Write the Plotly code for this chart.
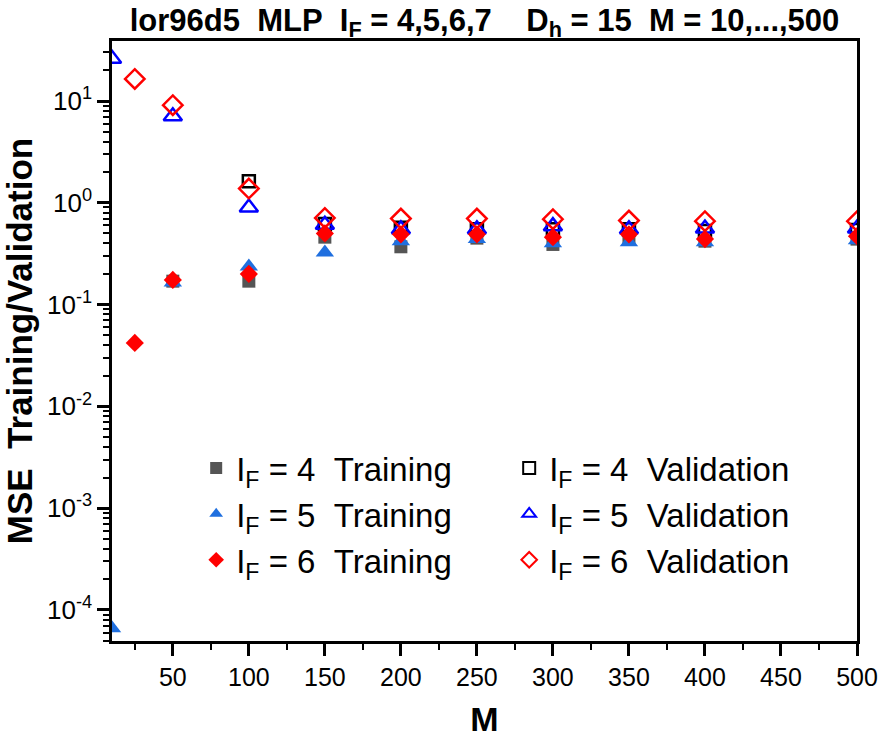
import plotly.graph_objects as go

# ---------------- data ----------------
M_if4_tr = [50, 100, 150, 200, 250, 300, 350, 400, 500]
mse_if4_tr = [0.17, 0.17, 0.46, 0.37, 0.45, 0.39, 0.45, 0.42, 0.44]
M_if4_va = [100, 150, 200, 250, 300, 350, 400, 500]
mse_if4_va = [1.63, 0.62, 0.57, 0.55, 0.55, 0.55, 0.53, 0.54]

M_if5_tr = [10, 50, 100, 150, 200, 250, 300, 350, 400, 500]
mse_if5_tr = [6.6e-5, 0.165, 0.237, 0.325, 0.42, 0.44, 0.40, 0.41, 0.41, 0.43]
M_if5_va = [10, 50, 100, 150, 200, 250, 300, 350, 400, 500]
mse_if5_va = [26.0, 7.1, 0.90, 0.61, 0.55, 0.55, 0.59, 0.55, 0.56, 0.56]

M_if6_tr = [25, 50, 100, 150, 200, 250, 300, 350, 400, 500]
mse_if6_tr = [0.042, 0.175, 0.20, 0.50, 0.49, 0.49, 0.46, 0.49, 0.44, 0.47]
M_if6_va = [25, 50, 100, 150, 200, 250, 300, 350, 400, 500]
mse_if6_va = [16.5, 9.1, 1.38, 0.71, 0.70, 0.70, 0.69, 0.67, 0.66, 0.66]

y_tickvals = [1e-4, 1e-3, 1e-2, 1e-1, 1e0, 1e1]
y_ticktext = ["10<sup>-4</sup>", "10<sup>-3</sup>", "10<sup>-2</sup>",
              "10<sup>-1</sup>", "10<sup>0</sup>", "10<sup>1</sup>"]

FONT = "Liberation Sans, Arial, sans-serif"

fig = go.Figure()

def add(x, y, name, symbol, color, size, rank, lw=0):
    fig.add_trace(go.Scatter(
        x=x, y=y, mode="markers", name=name, legendrank=rank,
        marker=dict(symbol=symbol, color=color, size=size,
                    line=dict(color=color, width=lw)),
    ))

add(M_if4_tr, mse_if4_tr, "I<sub>F</sub> = 4\u00a0\u00a0Training", "square", "#555555", 13, 1)
add(M_if4_va, mse_if4_va, "I<sub>F</sub> = 4\u00a0\u00a0Validation", "square-open", "#000000", 12, 2, 2.5)
add(M_if5_tr, mse_if5_tr, "I<sub>F</sub> = 5\u00a0\u00a0Training", "triangle-up", "#1f6fdf", 16, 3)
add(M_if5_va, mse_if5_va, "I<sub>F</sub> = 5\u00a0\u00a0Validation", "triangle-up-open", "#0000ff", 16, 4, 2.5)
add(M_if6_tr, mse_if6_tr, "I<sub>F</sub> = 6\u00a0\u00a0Training", "diamond", "#ff0000", 14, 5)
add(M_if6_va, mse_if6_va, "I<sub>F</sub> = 6\u00a0\u00a0Validation", "diamond-open", "#ff0000", 15, 6, 2.5)

fig.update_layout(
    width=881, height=738,
    margin=dict(l=112, r=24, t=41, b=97),
    paper_bgcolor="white", plot_bgcolor="white",
    font=dict(family=FONT, color="black"),
    title=dict(
        text="<b>lor96d5\u00a0\u00a0MLP\u00a0\u00a0I<sub>F</sub> = 4,5,6,7\u00a0\u00a0\u00a0\u00a0D<sub>h</sub> = 15\u00a0\u00a0M = 10,...,500</b>",
        x=0.5, xref="paper", xanchor="center",
        y=1 - 20 / 738, yref="container", yanchor="middle",
        font=dict(size=31, family=FONT),
    ),
    legend=dict(
        orientation="h", x=0.113, y=0.335, xanchor="left", yanchor="top",
        entrywidth=268, entrywidthmode="pixels",
        font=dict(size=33, family=FONT),
        bgcolor="rgba(0,0,0,0)", itemsizing="constant",
    ),
    xaxis=dict(
        range=[10, 500], dtick=50, tick0=0,
        showline=True, linecolor="black", linewidth=2.5, mirror=True,
        ticks="outside", ticklen=12, tickwidth=2.5, tickcolor="black",
        minor=dict(ticks="outside", dtick=25, tick0=0, ticklen=6, tickwidth=2, tickcolor="black"),
        showgrid=False, zeroline=False, automargin=False,
        ticklabeloverflow="allow",
        tickfont=dict(size=25),
        title=dict(text="<b>M</b>", font=dict(size=34), standoff=18),
    ),
    yaxis=dict(
        type="log", range=[-4.305, 1.59],
        tickvals=y_tickvals, ticktext=y_ticktext,
        showline=True, linecolor="black", linewidth=2.5, mirror=True,
        ticks="outside", ticklen=12, tickwidth=2.5, tickcolor="black",
        minor=dict(ticks="outside", ticklen=6, tickwidth=2, tickcolor="black", dtick="D1"),
        showgrid=False, zeroline=False, automargin=False,
        ticklabeloverflow="allow",
        tickfont=dict(size=26),
        title=dict(text="<b>MSE\u00a0\u00a0Training/Validation</b>", font=dict(size=35), standoff=8),
    ),
)

fig.write_html("out.html")
